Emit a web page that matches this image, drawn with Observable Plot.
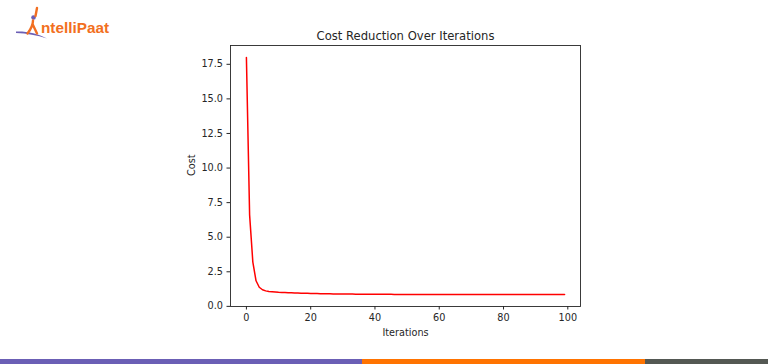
<!DOCTYPE html>
<html>
<head>
<meta charset="utf-8">
<script src="https://cdn.jsdelivr.net/npm/d3@7"></script>
<script src="https://cdn.jsdelivr.net/npm/@observablehq/plot@0.6"></script>
<style>
  html, body { margin: 0; padding: 0; background: #fff; }
  #chart svg { display: block; }
</style>
</head>
<body>
<div id="chart"></div>
<script>
// ---- data ----
const iterations = d3.range(0, 100);
const costValues = [
  18.0, 6.6, 3.2, 1.85, 1.38, 1.2, 1.12, 1.08, 1.06, 1.04,
  1.02, 1.01, 1.0, 0.99, 0.98, 0.97, 0.965, 0.955, 0.95, 0.94,
  0.935, 0.93, 0.925, 0.92, 0.915, 0.91, 0.905, 0.9, 0.9, 0.895,
  0.89, 0.89, 0.885, 0.885, 0.88, 0.88, 0.88, 0.875, 0.875, 0.875,
  0.87, 0.87, 0.87, 0.87, 0.868, 0.868, 0.866, 0.866, 0.865, 0.865,
  0.864, 0.864, 0.863, 0.863, 0.862, 0.862, 0.861, 0.861, 0.86, 0.86,
  0.86, 0.86, 0.859, 0.859, 0.858, 0.858, 0.858, 0.857, 0.857, 0.857,
  0.856, 0.856, 0.856, 0.855, 0.855, 0.855, 0.855, 0.854, 0.854, 0.854,
  0.854, 0.853, 0.853, 0.853, 0.853, 0.852, 0.852, 0.852, 0.852, 0.852,
  0.851, 0.851, 0.851, 0.851, 0.851, 0.85, 0.85, 0.85, 0.85, 0.85
];
const xTicks = [0, 20, 40, 60, 80, 100];
const yTicks = [0, 2.5, 5, 7.5, 10, 12.5, 15, 17.5];
const titleText = "Cost Reduction Over Iterations";
const xLabel = "Iterations";
const yLabel = "Cost";

const rows = iterations.map((it, i) => ({iter: it, cost: costValues[i]}));

const font = "'DejaVu Sans', sans-serif";
const ink = "#262626";

const chart = Plot.plot({
  width: 768,
  height: 364,
  marginLeft: 230,
  marginRight: 188,
  marginTop: 45,
  marginBottom: 58,
  style: {fontFamily: font, fontSize: "9.7px", color: ink, background: "#fff"},
  x: {domain: [-4.95, 103.95]},
  y: {domain: [-0.01, 18.86]},
  marks: [
    Plot.axisX({ticks: xTicks, tickFormat: d => String(d), tickSize: 3.5, tickPadding: 4, label: null, stroke: ink}),
    Plot.axisY({ticks: yTicks, tickFormat: d => d.toFixed(1), tickSize: 3.5, tickPadding: 4, label: null, stroke: ink}),
    Plot.line(rows, {x: "iter", y: "cost", stroke: "#ff0000", strokeWidth: 1.5}),
    Plot.frame({stroke: ink, strokeWidth: 0.9}),
    Plot.text([titleText], {frameAnchor: "top", lineAnchor: "middle", text: d => d, dy: -9, fontSize: 11.6, fill: ink}),
    Plot.text([xLabel], {frameAnchor: "bottom", lineAnchor: "middle", text: d => d, dy: 26, fontSize: 9.7, fill: ink}),
    Plot.text([yLabel], {frameAnchor: "left", lineAnchor: "middle", text: d => d, dx: -39, rotate: -90, fontSize: 9.7, fill: ink})
  ]
});

document.getElementById("chart").appendChild(chart);

// ---- decorations: logo and bottom colour bar ----
const svg = d3.select(chart);
const logo = svg.append("g").attr("class", "logo");
// swoosh
logo.append("path")
  .attr("d", "M16,31.5 C26,31 38,33.5 47,38.5 C37,35 27,33.5 16,33 Z")
  .attr("fill", "#6b5fb5");
// stick figure (the "I")
logo.append("circle").attr("cx", 33.5).attr("cy", 17.5).attr("r", 2.3).attr("fill", "#6b5fb5");
logo.append("path")
  .attr("d", "M37,8 L35.5,16 M33,20.5 C33,25 31,29 27.5,33.5 M32.5,24 L37,33.5")
  .attr("stroke", "#f26f21").attr("stroke-width", 2.4).attr("fill", "none").attr("stroke-linecap", "round");
logo.append("text")
  .attr("x", 41).attr("y", 33.3)
  .attr("text-anchor", "start")
  .attr("font-family", "'Liberation Sans', Arial, sans-serif")
  .attr("font-weight", "bold")
  .attr("font-size", 15.3)
  .attr("fill", "#f26f21")
  .text("ntelliPaat");

const bars = [
  {x0: 0, x1: 362, c: "#6b5fb5"},
  {x0: 362, x1: 645, c: "#ff7300"},
  {x0: 645, x1: 768, c: "#545853"}
];
svg.append("g").selectAll("rect").data(bars).join("rect")
  .attr("x", d => d.x0).attr("width", d => d.x1 - d.x0)
  .attr("y", 359).attr("height", 5).attr("fill", d => d.c);
</script>
</body>
</html>
